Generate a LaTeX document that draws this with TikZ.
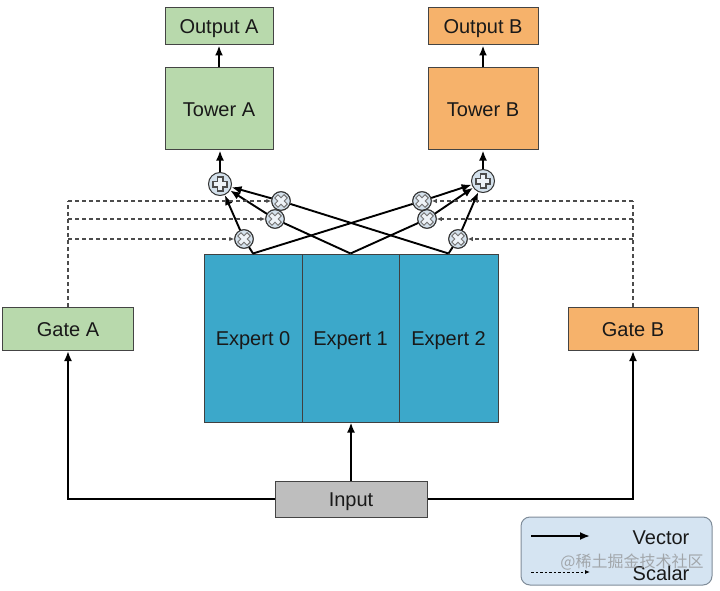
\documentclass[tikz,border=0pt]{standalone}
\usepackage{fontspec}
\setmainfont{Liberation Sans}
\newfontfamily\cjkfont{Noto Sans CJK SC}
\usetikzlibrary{arrows.meta,positioning,calc}
\definecolor{gfill}{HTML}{B8D9AC}
\definecolor{ofill}{HTML}{F6B26B}
\definecolor{tfill}{HTML}{3CA8CA}
\definecolor{ifill}{HTML}{BEBEBE}
\definecolor{lfill}{HTML}{D5E4F2}
\definecolor{lborder}{HTML}{7F8C99}
\definecolor{cfill}{HTML}{D4E1EC}
\definecolor{bord}{HTML}{444444}
\definecolor{glyph}{HTML}{EEF3F8}
\tikzset{
  lbl/.style={font=\fontsize{20}{24}\selectfont, text=black!90, text height=14.3pt, text depth=0pt},
  box/.style={lbl, draw=bord, line width=1pt, inner sep=0pt},
  greenbox/.style={box, fill=gfill},
  orangebox/.style={box, fill=ofill},
  expertbox/.style={box, fill=tfill, draw=black!75},
  vec/.style={line width=1.9pt, -{Latex[length=10pt,width=8pt]}},
  vecline/.style={line width=1.9pt},
  scalar/.style={line width=1.1pt, draw=black!70, dash pattern=on 4pt off 3pt},
  scalararrow/.style={scalar, -{Latex[length=5pt,width=4.5pt]}},
  plusnode/.style={circle, draw=black!80, line width=1pt, fill=cfill, minimum size=23pt, inner sep=0pt,
    path picture={
      \draw[line width=7pt, black!70] ([xshift=-7.6pt]path picture bounding box.center) -- ([xshift=7.6pt]path picture bounding box.center)
        ([yshift=-7.6pt]path picture bounding box.center) -- ([yshift=7.6pt]path picture bounding box.center);
      \draw[line width=4.6pt, glyph] ([xshift=-6.4pt]path picture bounding box.center) -- ([xshift=6.4pt]path picture bounding box.center)
        ([yshift=-6.4pt]path picture bounding box.center) -- ([yshift=6.4pt]path picture bounding box.center);
    }},
  timesnode/.style={circle, draw=black!80, line width=1pt, fill=cfill, minimum size=18.5pt, inner sep=0pt,
    path picture={
      \draw[line width=5.4pt, black!55] ([shift={(-5pt,-5pt)}]path picture bounding box.center) -- ([shift={(5pt,5pt)}]path picture bounding box.center)
        ([shift={(-5pt,5pt)}]path picture bounding box.center) -- ([shift={(5pt,-5pt)}]path picture bounding box.center);
      \draw[line width=3.4pt, glyph] ([shift={(-4.2pt,-4.2pt)}]path picture bounding box.center) -- ([shift={(4.2pt,4.2pt)}]path picture bounding box.center)
        ([shift={(-4.2pt,4.2pt)}]path picture bounding box.center) -- ([shift={(4.2pt,-4.2pt)}]path picture bounding box.center);
    }},
}
\begin{document}
\begin{tikzpicture}[x=1pt,y=-1pt]
\useasboundingbox (0,0) rectangle (720,591);

% towers and outputs
\node[greenbox, minimum width=108pt, minimum height=37pt] (outA) at (219,26.5) {Output A};
\node[greenbox, minimum width=108pt, minimum height=82pt] (towA) at (219,109) {Tower A};
\node[orangebox, minimum width=110pt, minimum height=37pt] (outB) at (483,26.5) {Output B};
\node[orangebox, minimum width=110pt, minimum height=82pt] (towB) at (483,109) {Tower B};

% experts
\node[expertbox, minimum width=98pt, minimum height=168pt] (e0) at (253,338) {Expert 0};
\node[expertbox, minimum width=97pt, minimum height=168pt] (e1) at (350.5,338) {Expert 1};
\node[expertbox, minimum width=99pt, minimum height=168pt] (e2) at (448.5,338) {Expert 2};

% gates and input
\node[greenbox, minimum width=131pt, minimum height=43pt] (gA) at (68,329) {Gate A};
\node[orangebox, minimum width=130pt, minimum height=43pt] (gB) at (633,329) {Gate B};
\node[box, fill=ifill, minimum width=152pt, minimum height=36pt] (inp) at (351,499) {Input};

% mixing nodes
\node[plusnode] (pA) at (220,184) {};
\node[plusnode] (pB) at (483,181) {};
\node[timesnode] (tA1) at (281,201) {};
\node[timesnode] (tA2) at (275,219) {};
\node[timesnode] (tA3) at (244,239) {};
\node[timesnode] (tB1) at (422,201) {};
\node[timesnode] (tB2) at (427,219) {};
\node[timesnode] (tB3) at (458,239) {};

% expert outputs to gating multipliers
\draw[vecline] (e0.north) -- (tA3);
\draw[vecline] (e0.north) -- (tB1);
\draw[vecline] (e1.north) -- (tA2);
\draw[vecline] (e1.north) -- (tB2);
\draw[vecline] (e2.north) -- (tA1);
\draw[vecline] (e2.north) -- (tB3);

% redraw circles on top of lines
\node[timesnode] at (tA1) {};
\node[timesnode] at (tA2) {};
\node[timesnode] at (tA3) {};
\node[timesnode] at (tB1) {};
\node[timesnode] at (tB2) {};
\node[timesnode] at (tB3) {};

% multipliers to sums
\draw[vec] (tA1) -- (pA);
\draw[vec] (tA2) -- (pA);
\draw[vec] (tA3) -- (pA);
\draw[vec] (tB1) -- (pB);
\draw[vec] (tB2) -- (pB);
\draw[vec] (tB3) -- (pB);

% sums to towers to outputs
\draw[vec] (pA.north) -- (pA.north |- towA.south);
\draw[vec] (pB.north) -- (pB.north |- towB.south);
\draw[vec] (towA.north) -- (outA.south);
\draw[vec] (towB.north) -- (outB.south);

% input connections
\draw[vec] (inp.north) -- (inp.north |- e1.south);
\draw[vec] (inp.west) -| (gA.south);
\draw[vec] (inp.east) -| (gB.south);

% gate scalars
\draw[scalar] (gA.north) -- (gA.north |- tA1);
\draw[scalararrow] (gA.north |- tA1) -- (tA1.west);
\draw[scalararrow] (gA.north |- tA2) -- (tA2.west);
\draw[scalararrow] (gA.north |- tA3) -- (tA3.west);
\draw[scalar] (gB.north) -- (gB.north |- tB1);
\draw[scalararrow] (gB.north |- tB1) -- (tB1.east);
\draw[scalararrow] (gB.north |- tB2) -- (tB2.east);
\draw[scalararrow] (gB.north |- tB3) -- (tB3.east);

% legend
\node[draw=lborder, line width=1pt, fill=lfill, rounded corners=9pt, minimum width=191pt, minimum height=68pt] (leg) at (616.5,551) {};
\coordinate (v1) at (531,536);
\coordinate (v2) at (590,536);
\coordinate (s1) at (531,572);
\coordinate (s2) at (590,572);
\draw[vec] (v1) -- (v2);
\draw[line width=0.9pt, dash pattern=on 2.5pt off 2pt, -{Latex[length=5pt,width=4pt]}] (s1) -- (s2);
\node[lbl, inner sep=0pt] (vt) at (661,537) {Vector};
\node[lbl, inner sep=0pt] (st) at (661,573) {Scalar};
\node[font=\cjkfont\fontsize{16}{18}\selectfont, text=black!45, opacity=0.7] (wm) at (632,562) {@稀土掘金技术社区};
\end{tikzpicture}
\end{document}
